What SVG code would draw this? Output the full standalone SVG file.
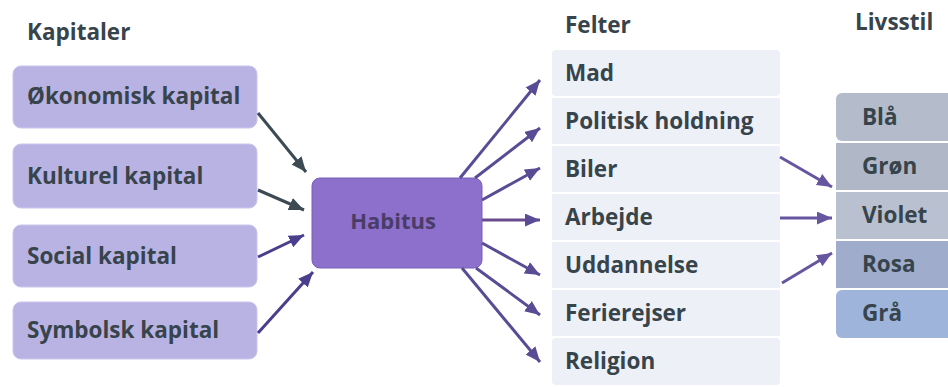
<svg xmlns="http://www.w3.org/2000/svg" width="948" height="387" viewBox="0 0 948 387">
<defs>
<style>
.t{font-family:"Open Sans","Liberation Sans",sans-serif;font-weight:700;fill:#37444b}
.h{font-size:22.5px}
.k{font-size:22.5px}
.kap{fill:#b9b3e4;stroke:#c9c4ec;stroke-width:1}
.fel{fill:#edf0f7}
.c{stroke-width:3;fill:none}
</style>
<marker id="aS" viewBox="0 0 14 12" refX="14" refY="6" markerWidth="15" markerHeight="13" markerUnits="userSpaceOnUse" orient="auto"><path d="M0,0 L14,6 L0,12 Z" fill="#3c4a54"/></marker>
<marker id="aP" viewBox="0 0 14 12" refX="14" refY="6" markerWidth="15" markerHeight="13" markerUnits="userSpaceOnUse" orient="auto"><path d="M0,0 L14,6 L0,12 Z" fill="#4a3f8c"/></marker>
<marker id="aR" viewBox="0 0 14 12" refX="14" refY="6" markerWidth="15" markerHeight="13" markerUnits="userSpaceOnUse" orient="auto"><path d="M0,0 L14,6 L0,12 Z" fill="#594c94"/></marker>
<marker id="aL" viewBox="0 0 14 12" refX="14" refY="6" markerWidth="15" markerHeight="13" markerUnits="userSpaceOnUse" orient="auto"><path d="M0,0 L14,6 L0,12 Z" fill="#6656a0"/></marker>
</defs>
<rect width="948" height="387" fill="#ffffff"/>

<text class="t h" x="27" y="40">Kapitaler</text>
<text class="t h" x="565" y="33">Felter</text>
<text class="t h" x="855" y="30">Livsstil</text>

<g id="okonomisk"><rect class="kap" x="13" y="66" width="244" height="62" rx="8"/><text class="t k" x="27" y="104">Økonomisk kapital</text></g>
<g id="kulturel"><rect class="kap" x="13" y="144" width="244" height="64" rx="8"/><text class="t k" x="27" y="184">Kulturel kapital</text></g>
<g id="social"><rect class="kap" x="13" y="225" width="244" height="62" rx="8"/><text class="t k" x="27" y="264">Social kapital</text></g>
<g id="symbolsk"><rect class="kap" x="13" y="302" width="244" height="57" rx="8"/><text class="t k" x="27" y="338">Symbolsk kapital</text></g>

<g id="habitus"><rect x="312" y="178" width="170" height="90" rx="8" fill="#8d70cb" stroke="#7a5fb8" stroke-width="1"/><text class="t" x="393" y="229" text-anchor="middle" font-size="22" style="fill:#4a3c68">Habitus</text></g>

<g id="felter">
<g id="mad"><rect class="fel" x="552" y="50" width="228" height="46" rx="4"/><text class="t k" x="565" y="81">Mad</text></g>
<g id="politisk"><rect class="fel" x="552" y="98" width="228" height="46"/><text class="t k" x="565" y="129">Politisk holdning</text></g>
<g id="biler"><rect class="fel" x="552" y="146" width="228" height="46"/><text class="t k" x="565" y="177">Biler</text></g>
<g id="arbejde"><rect class="fel" x="552" y="194" width="228" height="46"/><text class="t k" x="565" y="225">Arbejde</text></g>
<g id="uddannelse"><rect class="fel" x="552" y="242" width="228" height="46"/><text class="t k" x="565" y="273">Uddannelse</text></g>
<g id="ferierejser"><rect class="fel" x="552" y="290" width="228" height="46"/><text class="t k" x="565" y="321">Ferierejser</text></g>
<g id="religion"><rect class="fel" x="552" y="338" width="228" height="47" rx="4"/><text class="t k" x="565" y="369">Religion</text></g>
</g>

<g id="livsstil">
<g id="bla"><rect x="836" y="93" width="124" height="48" rx="6" fill="#b4bccb"/><text class="t k" x="862" y="125">Blå</text></g>
<g id="gron"><rect x="836" y="143" width="124" height="47" fill="#b0b8c8"/><text class="t k" x="862" y="174">Grøn</text></g>
<g id="violet"><rect x="836" y="192" width="124" height="47" fill="#b9c0cf"/><text class="t k" x="862" y="223">Violet</text></g>
<g id="rosa"><rect x="836" y="241" width="124" height="47" fill="#9faccb"/><text class="t k" x="862" y="272">Rosa</text></g>
<g id="gra"><rect x="836" y="290" width="124" height="48" rx="6" fill="#9eb4db"/><text class="t k" x="862" y="321">Grå</text></g>
</g>

<g id="connectors">
<line class="c" x1="258" y1="113" x2="306" y2="172" stroke="#3c4a54" marker-end="url(#aS)"/>
<line class="c" x1="258" y1="190" x2="304" y2="210" stroke="#3c4a54" marker-end="url(#aS)"/>
<line class="c" x1="258" y1="257" x2="304" y2="235" stroke="#4a3f8c" marker-end="url(#aP)"/>
<line class="c" x1="258" y1="333" x2="313" y2="272" stroke="#4a3f8c" marker-end="url(#aP)"/>

<line class="c" x1="460" y1="178" x2="540" y2="80" stroke="#594c94" marker-end="url(#aR)"/>
<line class="c" x1="475" y1="178" x2="540" y2="128" stroke="#594c94" marker-end="url(#aR)"/>
<line class="c" x1="482" y1="200" x2="540" y2="168" stroke="#594c94" marker-end="url(#aR)"/>
<line class="c" x1="482" y1="220" x2="540" y2="220" stroke="#6a4a8c" marker-end="url(#aR)"/>
<line class="c" x1="482" y1="243" x2="540" y2="275" stroke="#594c94" marker-end="url(#aR)"/>
<line class="c" x1="476" y1="268" x2="540" y2="315" stroke="#594c94" marker-end="url(#aR)"/>
<line class="c" x1="462" y1="268" x2="540" y2="362" stroke="#594c94" marker-end="url(#aR)"/>

<line class="c" x1="780" y1="157" x2="832" y2="187" stroke="#6656a0" marker-end="url(#aL)"/>
<line class="c" x1="780" y1="218" x2="832" y2="218" stroke="#6656a0" marker-end="url(#aL)"/>
<line class="c" x1="782" y1="283" x2="832" y2="253" stroke="#6656a0" marker-end="url(#aL)"/>
</g>
</svg>
